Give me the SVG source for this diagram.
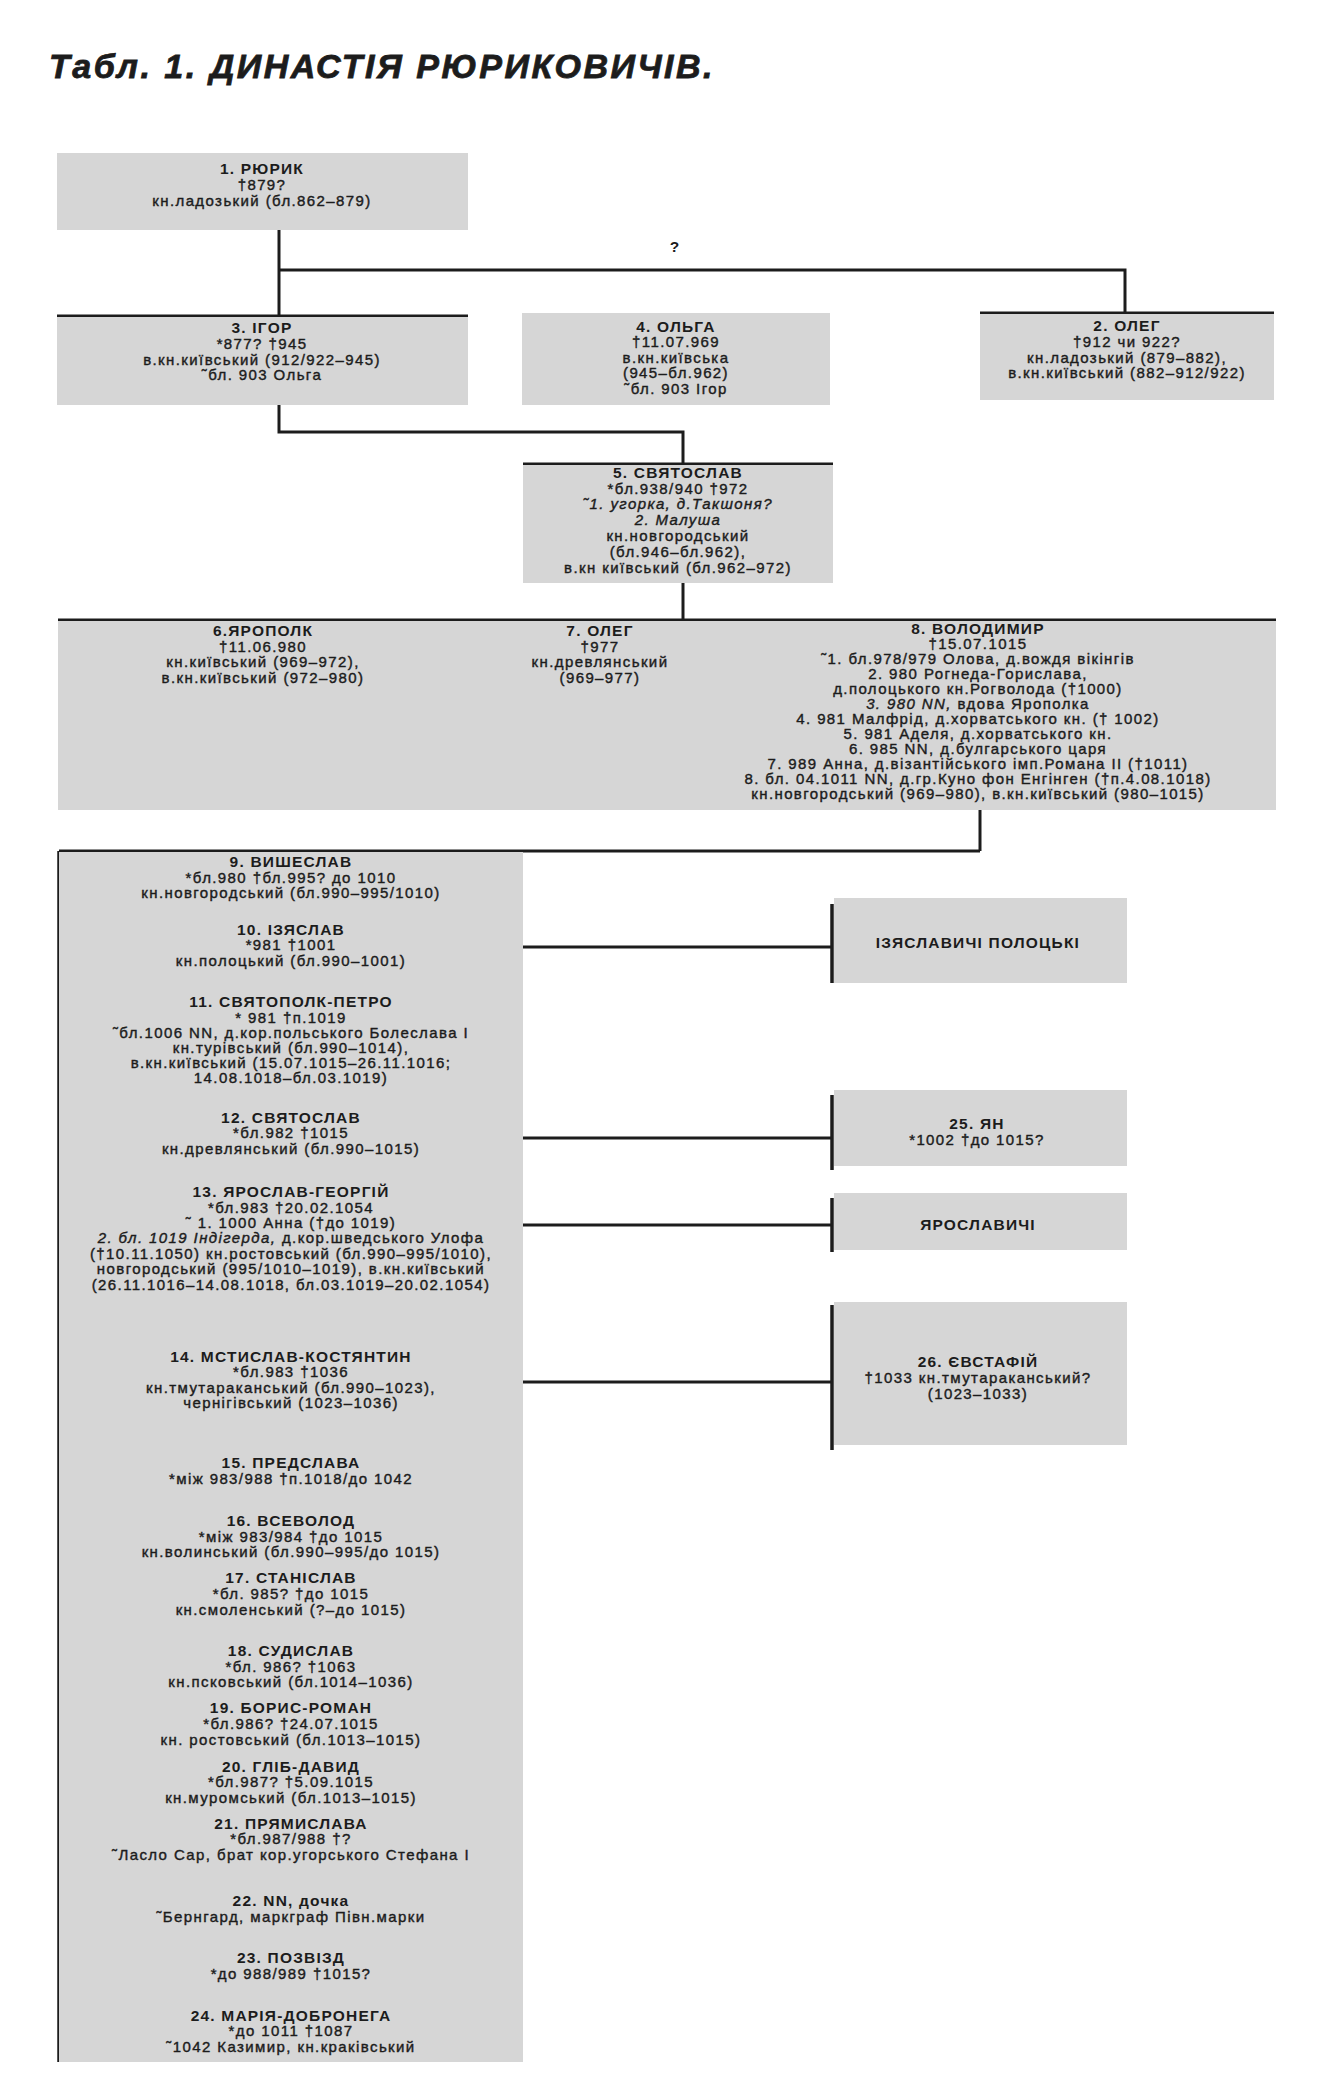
<svg xmlns="http://www.w3.org/2000/svg" width="1320" height="2080" viewBox="0 0 1320 2080">
<style>
.bx{fill:#d6d6d6}
.ln{stroke:#1c1c1c;stroke-width:3;fill:none}
.lt{stroke:#1c1c1c;stroke-width:3.5;fill:none}
text{font-family:"Liberation Sans",Arial,sans-serif;fill:#1c1c1c;text-anchor:middle}
.n{font-size:15.5px;font-weight:bold;letter-spacing:1.2px}
.t{font-size:15px;letter-spacing:1.4px;stroke:#1c1c1c;stroke-width:0.4}
.i{font-style:italic}
.title{font-size:34px;font-weight:bold;font-style:italic;letter-spacing:2.5px;text-anchor:start;stroke:#1c1c1c;stroke-width:0.8}
</style>
<rect width="1320" height="2080" fill="#ffffff"/>
<text class="title" x="49" y="78">Табл. 1. ДИНАСТІЯ РЮРИКОВИЧІВ.</text>

<g id="connectors">
<path class="ln" d="M279 230V316"/>
<path class="ln" d="M279 270H1125V313"/>
<path class="ln" d="M57 316H468"/>
<path class="ln" d="M980 313H1274"/>
<path class="ln" d="M279 405V432H683V464"/>
<path class="ln" d="M523 464H833"/>
<path class="ln" d="M683 583V620"/>
<path class="ln" d="M58 620H1276"/>
<path class="ln" d="M980 810V851"/>
<path class="ln" d="M59 851H980"/>
<path class="lt" d="M59 851V2062"/>
<path class="ln" d="M523 947H832"/>
<path class="ln" d="M523 1138H832"/>
<path class="ln" d="M523 1225H832"/>
<path class="ln" d="M523 1382H832"/>
<path class="lt" d="M832 904V983"/>
<path class="lt" d="M832 1095V1170"/>
<path class="lt" d="M832 1198V1252"/>
<path class="lt" d="M832 1305V1450"/>
<text class="n" x="675" y="252">?</text>
</g>

<g id="n1">
<rect class="bx" x="57" y="153" width="411" height="77"/>
<text class="n" x="262" y="174">1. РЮРИК</text>
<text class="t" x="262" y="190">†879?</text>
<text class="t" x="262" y="206">кн.ладозький (бл.862–879)</text>
</g>

<g id="n3">
<rect class="bx" x="57" y="317" width="411" height="88"/>
<text class="n" x="262" y="333">3. ІГОР</text>
<text class="t" x="262" y="349">*877? †945</text>
<text class="t" x="262" y="365">в.кн.київський (912/922–945)</text>
<text class="t" x="262" y="380">˜бл. 903 Ольга</text>
</g>

<g id="n4">
<rect class="bx" x="522" y="313" width="308" height="92"/>
<text class="n" x="676" y="332">4. ОЛЬГА</text>
<text class="t" x="676" y="347">†11.07.969</text>
<text class="t" x="676" y="363">в.кн.київська</text>
<text class="t" x="676" y="378">(945–бл.962)</text>
<text class="t" x="676" y="394">˜бл. 903 Ігор</text>
</g>

<g id="n2">
<rect class="bx" x="980" y="314" width="294" height="86"/>
<text class="n" x="1127" y="331">2. ОЛЕГ</text>
<text class="t" x="1127" y="347">†912 чи 922?</text>
<text class="t" x="1127" y="363">кн.ладозький (879–882),</text>
<text class="t" x="1127" y="378">в.кн.київський (882–912/922)</text>
</g>

<g id="n5">
<rect class="bx" x="523" y="465" width="310" height="118"/>
<text class="n" x="678" y="478">5. СВЯТОСЛАВ</text>
<text class="t" x="678" y="494">*бл.938/940 †972</text>
<text class="t i" x="678" y="509">˜1. угорка, д.Такшоня?</text>
<text class="t i" x="678" y="525">2. Малуша</text>
<text class="t" x="678" y="541">кн.новгородський</text>
<text class="t" x="678" y="557">(бл.946–бл.962),</text>
<text class="t" x="678" y="573">в.кн київський (бл.962–972)</text>
</g>

<rect class="bx" x="58" y="621" width="1218" height="189"/>

<g id="n6">
<text class="n" x="263" y="636">6.ЯРОПОЛК</text>
<text class="t" x="263" y="652">†11.06.980</text>
<text class="t" x="263" y="667">кн.київський (969–972),</text>
<text class="t" x="263" y="683">в.кн.київський (972–980)</text>
</g>

<g id="n7">
<text class="n" x="600" y="636">7. ОЛЕГ</text>
<text class="t" x="600" y="652">†977</text>
<text class="t" x="600" y="667">кн.древлянський</text>
<text class="t" x="600" y="683">(969–977)</text>
</g>

<g id="n8">
<text class="n" x="978" y="634">8. ВОЛОДИМИР</text>
<text class="t" x="978" y="649">†15.07.1015</text>
<text class="t" x="978" y="664">˜1. бл.978/979 Олова, д.вождя вікінгів</text>
<text class="t" x="978" y="679">2. 980 Рогнеда-Горислава,</text>
<text class="t" x="978" y="694">д.полоцького кн.Рогволода (†1000)</text>
<text class="t" x="978" y="709"><tspan class="i">3. 980 NN,</tspan> вдова Ярополка</text>
<text class="t" x="978" y="724">4. 981 Малфрід, д.хорватського кн. († 1002)</text>
<text class="t" x="978" y="739">5. 981 Аделя, д.хорватського кн.</text>
<text class="t" x="978" y="754">6. 985 NN, д.булгарського царя</text>
<text class="t" x="978" y="769">7. 989 Анна, д.візантійського імп.Романа II (†1011)</text>
<text class="t" x="978" y="784">8. бл. 04.1011 NN, д.гр.Куно фон Енгінген (†п.4.08.1018)</text>
<text class="t" x="978" y="799">кн.новгородський (969–980), в.кн.київський (980–1015)</text>
</g>

<rect class="bx" x="59" y="852" width="464" height="1210"/>

<g id="n9">
<text class="n" x="291" y="867">9. ВИШЕСЛАВ</text>
<text class="t" x="291" y="883">*бл.980 †бл.995? до 1010</text>
<text class="t" x="291" y="898">кн.новгородський (бл.990–995/1010)</text>
</g>
<g id="n10">
<text class="n" x="291" y="935">10. ІЗЯСЛАВ</text>
<text class="t" x="291" y="950">*981 †1001</text>
<text class="t" x="291" y="966">кн.полоцький (бл.990–1001)</text>
</g>
<g id="n11">
<text class="n" x="291" y="1007">11. СВЯТОПОЛК-ПЕТРО</text>
<text class="t" x="291" y="1023">* 981 †п.1019</text>
<text class="t" x="291" y="1038">˜бл.1006 NN, д.кор.польського Болеслава I</text>
<text class="t" x="291" y="1053">кн.турівський (бл.990–1014),</text>
<text class="t" x="291" y="1068">в.кн.київський (15.07.1015–26.11.1016;</text>
<text class="t" x="291" y="1083">14.08.1018–бл.03.1019)</text>
</g>
<g id="n12">
<text class="n" x="291" y="1123">12. СВЯТОСЛАВ</text>
<text class="t" x="291" y="1138">*бл.982 †1015</text>
<text class="t" x="291" y="1154">кн.древлянський (бл.990–1015)</text>
</g>
<g id="n13">
<text class="n" x="291" y="1197">13. ЯРОСЛАВ-ГЕОРГІЙ</text>
<text class="t" x="291" y="1213">*бл.983 †20.02.1054</text>
<text class="t" x="291" y="1228">˜ 1. 1000 Анна (†до 1019)</text>
<text class="t" x="291" y="1243"><tspan class="i">2. бл. 1019 Індігерда,</tspan> д.кор.шведського Улофа</text>
<text class="t" x="291" y="1259">(†10.11.1050) кн.ростовський (бл.990–995/1010),</text>
<text class="t" x="291" y="1274">новгородський (995/1010–1019), в.кн.київський</text>
<text class="t" x="291" y="1290">(26.11.1016–14.08.1018, бл.03.1019–20.02.1054)</text>
</g>
<g id="n14">
<text class="n" x="291" y="1362">14. МСТИСЛАВ-КОСТЯНТИН</text>
<text class="t" x="291" y="1377">*бл.983 †1036</text>
<text class="t" x="291" y="1393">кн.тмутараканський (бл.990–1023),</text>
<text class="t" x="291" y="1408">чернігівський (1023–1036)</text>
</g>
<g id="n15">
<text class="n" x="291" y="1468">15. ПРЕДСЛАВА</text>
<text class="t" x="291" y="1484">*між 983/988 †п.1018/до 1042</text>
</g>
<g id="n16">
<text class="n" x="291" y="1526">16. ВСЕВОЛОД</text>
<text class="t" x="291" y="1542">*між 983/984 †до 1015</text>
<text class="t" x="291" y="1557">кн.волинський (бл.990–995/до 1015)</text>
</g>
<g id="n17">
<text class="n" x="291" y="1583">17. СТАНІСЛАВ</text>
<text class="t" x="291" y="1599">*бл. 985? †до 1015</text>
<text class="t" x="291" y="1615">кн.смоленський (?–до 1015)</text>
</g>
<g id="n18">
<text class="n" x="291" y="1656">18. СУДИСЛАВ</text>
<text class="t" x="291" y="1672">*бл. 986? †1063</text>
<text class="t" x="291" y="1687">кн.псковський (бл.1014–1036)</text>
</g>
<g id="n19">
<text class="n" x="291" y="1713">19. БОРИС-РОМАН</text>
<text class="t" x="291" y="1729">*бл.986? †24.07.1015</text>
<text class="t" x="291" y="1745">кн. ростовський (бл.1013–1015)</text>
</g>
<g id="n20">
<text class="n" x="291" y="1772">20. ГЛІБ-ДАВИД</text>
<text class="t" x="291" y="1787">*бл.987? †5.09.1015</text>
<text class="t" x="291" y="1803">кн.муромський (бл.1013–1015)</text>
</g>
<g id="n21">
<text class="n" x="291" y="1829">21. ПРЯМИСЛАВА</text>
<text class="t" x="291" y="1844">*бл.987/988 †?</text>
<text class="t" x="291" y="1860">˜Ласло Сар, брат кор.угорського Стефана I</text>
</g>
<g id="n22">
<text class="n" x="291" y="1906">22. NN, дочка</text>
<text class="t" x="291" y="1922">˜Бернгард, маркграф Півн.марки</text>
</g>
<g id="n23">
<text class="n" x="291" y="1963">23. ПОЗВІЗД</text>
<text class="t" x="291" y="1979">*до 988/989 †1015?</text>
</g>
<g id="n24">
<text class="n" x="291" y="2021">24. МАРІЯ-ДОБРОНЕГА</text>
<text class="t" x="291" y="2036">*до 1011 †1087</text>
<text class="t" x="291" y="2052">˜1042 Казимир, кн.краківський</text>
</g>

<g id="izyaslavychi">
<rect class="bx" x="834" y="898" width="293" height="85"/>
<text class="n" x="978" y="948">ІЗЯСЛАВИЧІ ПОЛОЦЬКІ</text>
</g>
<g id="n25">
<rect class="bx" x="834" y="1090" width="293" height="76"/>
<text class="n" x="977" y="1129">25. ЯН</text>
<text class="t" x="977" y="1145">*1002 †до 1015?</text>
</g>
<g id="yaroslavychi">
<rect class="bx" x="834" y="1193" width="293" height="57"/>
<text class="n" x="978" y="1230">ЯРОСЛАВИЧІ</text>
</g>
<g id="n26">
<rect class="bx" x="834" y="1302" width="293" height="143"/>
<text class="n" x="978" y="1367">26. ЄВСТАФІЙ</text>
<text class="t" x="978" y="1383">†1033 кн.тмутараканський?</text>
<text class="t" x="978" y="1399">(1023–1033)</text>
</g>
</svg>
